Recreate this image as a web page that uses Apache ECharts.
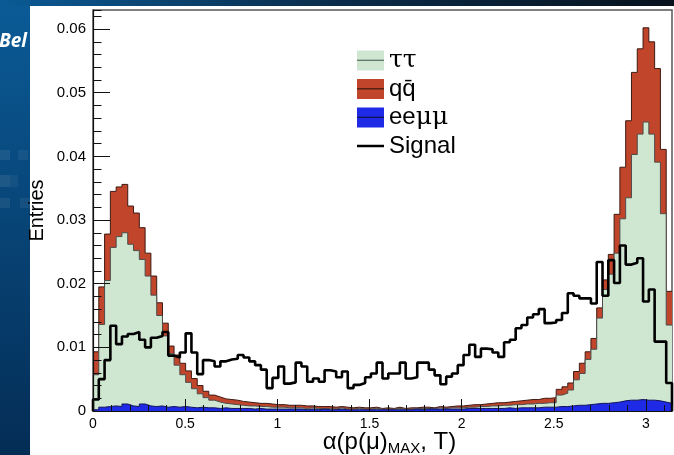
<!DOCTYPE html>
<html>
<head>
<meta charset="utf-8">
<script src="https://cdn.jsdelivr.net/npm/echarts@6/dist/echarts.min.js"></script>
<style>
  html, body { margin: 0; padding: 0; background: #ffffff; }
  #chart { width: 674px; height: 455px; }
</style>
</head>
<body>
<div id="chart"></div>
<script>
// Histogram binning: 100 equal bins between 0 and pi
const BIN_COUNT = 100;
const X_MAX = Math.PI;

// Per-bin entries for each component (stacked: eeμμ at the bottom, then ττ, then qq̄)
const eemumu = [
  0.0002,0.0006,0.0007,0.0008,0.0007,0.0011,0.0008,0.0007,0.0011,0.0008,
  0.0007,0.0008,0.0006,0.0007,0.0006,0.0007,0.0006,0.0005,0.0006,0.0005,
  0.0005,0.0004,0.0005,0.0004,0.0004,0.0004,0.0004,0.0003,0.0004,0.0003,
  0.0003,0.0003,0.0003,0.0003,0.0003,0.0003,0.0002,0.0003,0.0002,0.0003,
  0.0002,0.0002,0.0003,0.0002,0.0002,0.0002,0.0002,0.0002,0.0002,0.0002,
  0.0002,0.0002,0.0002,0.0002,0.0002,0.0003,0.0002,0.0003,0.0003,0.0003,
  0.0003,0.0003,0.0003,0.0003,0.0004,0.0004,0.0004,0.0004,0.0004,0.0004,
  0.0004,0.0005,0.0004,0.0005,0.0005,0.0005,0.0005,0.0006,0.0006,0.0006,
  0.0007,0.0007,0.0008,0.0009,0.0009,0.0010,0.0011,0.0012,0.0012,0.0013,
  0.0014,0.0016,0.0017,0.0017,0.0018,0.0017,0.0017,0.0016,0.0014,0.0012
];

const tautau = [
  0.0055,0.0130,0.0198,0.0249,0.0267,0.0269,0.0254,0.0245,0.0227,0.0204,
  0.0175,0.0142,0.0112,0.0083,0.0066,0.0050,0.0039,0.0030,0.0021,0.0016,
  0.0012,0.0010,0.0007,0.0007,0.0006,0.0005,0.0004,0.0005,0.0003,0.0004,
  0.0003,0.0003,0.0003,0.0002,0.0002,0.0002,0.0002,0.0002,0.0002,0.0001,
  0.0002,0.0001,0.0002,0.0001,0.0001,0.0002,0.0001,0.0001,0.0002,0.0001,
  0.0001,0.0001,0.0002,0.0001,0.0001,0.0001,0.0002,0.0001,0.0001,0.0002,
  0.0001,0.0002,0.0002,0.0002,0.0002,0.0002,0.0003,0.0003,0.0004,0.0004,
  0.0005,0.0004,0.0006,0.0005,0.0006,0.0006,0.0007,0.0006,0.0007,0.0007,
  0.0018,0.0021,0.0025,0.0040,0.0050,0.0071,0.0086,0.0134,0.0179,0.0202,
  0.0234,0.0286,0.0318,0.0386,0.0417,0.0437,0.0418,0.0375,0.0296,0.0123
];

const qqbar = [
  0.0036,0.0059,0.0073,0.0088,0.0078,0.0076,0.0060,0.0059,0.0050,0.0036,
  0.0030,0.0020,0.0020,0.0012,0.0016,0.0018,0.0018,0.0016,0.0013,0.0010,
  0.0008,0.0008,0.0007,0.0007,0.0007,0.0006,0.0006,0.0005,0.0005,0.0005,
  0.0005,0.0004,0.0004,0.0004,0.0004,0.0004,0.0004,0.0003,0.0003,0.0003,
  0.0003,0.0003,0.0002,0.0003,0.0002,0.0002,0.0002,0.0002,0.0002,0.0001,
  0.0002,0.0001,0.0002,0.0001,0.0002,0.0001,0.0002,0.0002,0.0001,0.0002,
  0.0002,0.0002,0.0003,0.0003,0.0003,0.0004,0.0003,0.0004,0.0004,0.0005,
  0.0004,0.0005,0.0005,0.0006,0.0006,0.0007,0.0006,0.0008,0.0007,0.0008,
  0.0009,0.0010,0.0011,0.0013,0.0016,0.0012,0.0017,0.0016,0.0015,0.0031,
  0.0061,0.0081,0.0121,0.0129,0.0134,0.0148,0.0145,0.0147,0.0101,0.0053
];

const signal = [
  0.0018,0.0050,0.0080,0.0134,0.0105,0.0117,0.0121,0.0124,0.0112,0.0100,
  0.0115,0.0118,0.0124,0.0087,0.0084,0.0092,0.0122,0.0092,0.0058,0.0080,
  0.0078,0.0070,0.0078,0.0081,0.0082,0.0088,0.0084,0.0078,0.0072,0.0065,
  0.0036,0.0052,0.0070,0.0043,0.0045,0.0076,0.0070,0.0046,0.0051,0.0046,
  0.0064,0.0062,0.0053,0.0062,0.0036,0.0041,0.0044,0.0053,0.0059,0.0076,
  0.0051,0.0059,0.0059,0.0076,0.0051,0.0053,0.0076,0.0076,0.0065,0.0056,
  0.0042,0.0054,0.0059,0.0072,0.0088,0.0104,0.0085,0.0098,0.0097,0.0092,
  0.0085,0.0108,0.0112,0.0130,0.0135,0.0147,0.0152,0.0160,0.0138,0.0139,
  0.0143,0.0154,0.0185,0.0181,0.0177,0.0177,0.0169,0.0234,0.0181,0.0237,
  0.0201,0.0260,0.0230,0.0233,0.0240,0.0172,0.0191,0.0109,0.0109,0.0044
];

// Axis tick labels
const xTickLabels = ['0', '0.5', '1', '1.5', '2', '2.5', '3'];
const yTickLabels = ['0', '0.01', '0.02', '0.03', '0.04', '0.05', '0.06'];

// Colours
const GREEN = '#cfe7d1';
const RED = '#c1452a';
const BLUE = '#1e2ae6';

// Bin edges and step-line points (left edge of each bin, plus the closing right edge)
const edges = Array.from({ length: BIN_COUNT + 1 }, (_, i) => i * X_MAX / BIN_COUNT);
function stepPoints(values) {
  const pts = values.map((v, i) => [edges[i], v]);
  pts.push([edges[BIN_COUNT], values[BIN_COUNT - 1]]);
  return pts;
}

// Stack tops, painted back to front like a THStack: eeμμ+ττ+qq̄, eeμμ+ττ, eeμμ
const stackTopGreen = eemumu.map((v, i) => v + tautau[i]);
const stackTopRed = stackTopGreen.map((v, i) => v + qqbar[i]);

const legendLabels = {
  'ττ': '{g|ττ}',
  'qq\u0304': 'qq\u0304',
  'eeμμ': 'ee{g|μμ}',
  'Signal': 'Signal'
};

const chart = echarts.init(document.getElementById('chart'), null, { renderer: 'canvas' });

const filledSeries = (name, tops, fill, edge, z) => ({
  name: name,
  type: 'line',
  step: 'end',
  symbol: 'none',
  showSymbol: false,
  data: stepPoints(tops),
  itemStyle: { color: fill },
  lineStyle: { color: edge, width: 1 },
  areaStyle: { color: fill, opacity: 1, origin: 'start' },
  z: z,
  silent: true
});

chart.setOption({
  animation: false,
  backgroundColor: 'transparent',
  graphic: {
    elements: [
      { type: 'rect', z: -100, shape: { x: 0, y: 0, width: 674, height: 455 },
        style: { fill: { type: 'linear', x: 0, y: 0, x2: 0, y2: 1,
          colorStops: [{ offset: 0, color: '#0b5b97' }, { offset: 1, color: '#042d55' }] } } },
      { type: 'rect', z: -99, shape: { x: 0, y: 0, width: 674, height: 6 },
        style: { fill: { type: 'linear', x: 0, y: 0, x2: 1, y2: 0,
          colorStops: [{ offset: 0, color: '#0b5a95' }, { offset: 0.5, color: '#0a2c4a' }, { offset: 1, color: '#07121d' }] } } },
      { type: 'rect', z: -98, shape: { x: 0, y: 150, width: 10, height: 10 }, style: { fill: 'rgba(255,255,255,0.08)' } },
      { type: 'rect', z: -98, shape: { x: 18, y: 150, width: 10, height: 10 }, style: { fill: 'rgba(255,255,255,0.06)' } },
      { type: 'rect', z: -98, shape: { x: 0, y: 175, width: 10, height: 12 }, style: { fill: 'rgba(255,255,255,0.09)' } },
      { type: 'rect', z: -98, shape: { x: 10, y: 175, width: 8, height: 12 }, style: { fill: 'rgba(255,255,255,0.05)' } },
      { type: 'rect', z: -98, shape: { x: 0, y: 198, width: 10, height: 10 }, style: { fill: 'rgba(255,255,255,0.07)' } },
      { type: 'rect', z: -98, shape: { x: 20, y: 198, width: 10, height: 10 }, style: { fill: 'rgba(255,255,255,0.06)' } },
      { type: 'text', z: -97, x: -1, y: 32,
        style: { text: 'Bel', fill: '#ffffff', font: 'italic bold 19px "Open Sans"' } },
      { type: 'rect', z: -96, shape: { x: 30, y: 6, width: 644, height: 449 }, style: { fill: '#ffffff' } },
      // centre bars of the filled legend keys
      { type: 'line', z: 100, shape: { x1: 357, y1: 60.3, x2: 384, y2: 60.3 }, style: { stroke: '#5a6a5c', lineWidth: 1.2 } },
      { type: 'line', z: 100, shape: { x1: 357, y1: 88.8, x2: 384, y2: 88.8 }, style: { stroke: '#3a1a10', lineWidth: 1.2 } },
      { type: 'line', z: 100, shape: { x1: 357, y1: 117.3, x2: 384, y2: 117.3 }, style: { stroke: '#10104a', lineWidth: 1.2 } }
    ]
  },
  grid: {
    left: 93, right: 2, top: 10, bottom: 44,
    containLabel: false,
    outerBoundsMode: 'none',
    show: true, borderColor: '#555555', borderWidth: 1.5, backgroundColor: 'transparent'
  },
  legend: {
    orient: 'vertical', left: 357, top: 48, padding: 0,
    itemWidth: 27, itemHeight: 20, itemGap: 4,
    selectedMode: false,
    formatter: name => legendLabels[name],
    textStyle: {
      fontFamily: 'Liberation Sans', fontSize: 24, color: '#000', lineHeight: 20,
      rich: { g: { fontFamily: 'DejaVu Serif', fontSize: 25, color: '#000', lineHeight: 20 } }
    },
    data: [
      { name: 'ττ', icon: 'rect', itemStyle: { color: GREEN, borderWidth: 0 } },
      { name: 'qq\u0304', icon: 'rect', itemStyle: { color: RED, borderWidth: 0 } },
      { name: 'eeμμ', icon: 'rect', itemStyle: { color: BLUE, borderWidth: 0 } },
      { name: 'Signal', icon: 'path://M0,0L0,0.01L0.01,0Z M0,20L0,19.99L0.01,20Z M0,8.8H27V11.2H0Z',
        itemStyle: { color: '#000', borderWidth: 0 } }
    ]
  },
  xAxis: [
    {
      type: 'value', min: 0, max: X_MAX, interval: 0.5, position: 'bottom', z: 10,
      axisLine: { show: true, onZero: false, lineStyle: { color: '#111', width: 1.2 } },
      axisTick: { show: true, inside: true, length: 12, lineStyle: { color: '#111', width: 1 } },
      axisLabel: {
        margin: 6, fontSize: 14, fontFamily: 'Liberation Sans', color: '#000',
        showMaxLabel: false,
        formatter: v => {
          const k = Math.round(v / 0.5);
          return Math.abs(v - k * 0.5) < 1e-9 && xTickLabels[k] !== undefined ? xTickLabels[k] : '';
        }
      },
      splitLine: { show: false },
      name: '{t|α(p(μ)}{s|MAX}{t|, T)}',
      nameLocation: 'middle', nameGap: 19, nameMoveOverlap: false,
      nameTextStyle: {
        padding: [0, 0, 0, 14],
        rich: {
          t: { fontFamily: 'Liberation Sans', fontSize: 24, color: '#000', verticalAlign: 'top', lineHeight: 26 },
          s: { fontFamily: 'Liberation Sans', fontSize: 15, color: '#000', verticalAlign: 'bottom', lineHeight: 15, padding: [20, 0, 0, 0] }
        }
      }
    },
    {
      type: 'value', min: 0, max: X_MAX, interval: 0.1, position: 'bottom', z: 10,
      axisLine: { show: false, onZero: false },
      axisTick: { show: true, inside: true, length: 6, lineStyle: { color: '#111', width: 1 } },
      axisLabel: { show: false },
      splitLine: { show: false }
    }
  ],
  yAxis: [
    {
      type: 'value', min: 0, max: 0.063, interval: 0.01, position: 'left', z: 10,
      axisLine: { show: true, onZero: false, lineStyle: { color: '#111', width: 1.2 } },
      axisTick: { show: true, inside: true, length: 17, lineStyle: { color: '#111', width: 1 } },
      axisLabel: {
        margin: 7, fontSize: 15, fontFamily: 'Liberation Sans', color: '#000',
        showMaxLabel: false,
        formatter: v => {
          const k = Math.round(v / 0.01);
          return Math.abs(v - k * 0.01) < 1e-9 && yTickLabels[k] !== undefined ? yTickLabels[k] : '';
        }
      },
      splitLine: { show: false },
      name: 'Entries', nameLocation: 'middle', nameRotate: 90, nameGap: 46, nameMoveOverlap: false,
      nameTextStyle: { fontFamily: 'Liberation Sans', fontSize: 20, color: '#000' }
    },
    {
      type: 'value', min: 0, max: 0.063, interval: 0.002, position: 'left', z: 10,
      axisLine: { show: false, onZero: false },
      axisTick: { show: true, inside: true, length: 8.5, lineStyle: { color: '#111', width: 1 } },
      axisLabel: { show: false },
      splitLine: { show: false }
    }
  ],
  series: [
    filledSeries('qq\u0304', stackTopRed, RED, '#3d1a12', 2),
    filledSeries('ττ', stackTopGreen, GREEN, '#4d4d4d', 3),
    filledSeries('eeμμ', eemumu, BLUE, '#14145a', 4),
    {
      name: 'Signal',
      type: 'line',
      step: 'end',
      symbol: 'none',
      showSymbol: false,
      data: [[0, 0]].concat(stepPoints(signal), [[X_MAX, 0]]),
      itemStyle: { color: '#000' },
      lineStyle: { color: '#000', width: 2.6 },
      z: 5,
      silent: true
    }
  ]
});
</script>
</body>
</html>
